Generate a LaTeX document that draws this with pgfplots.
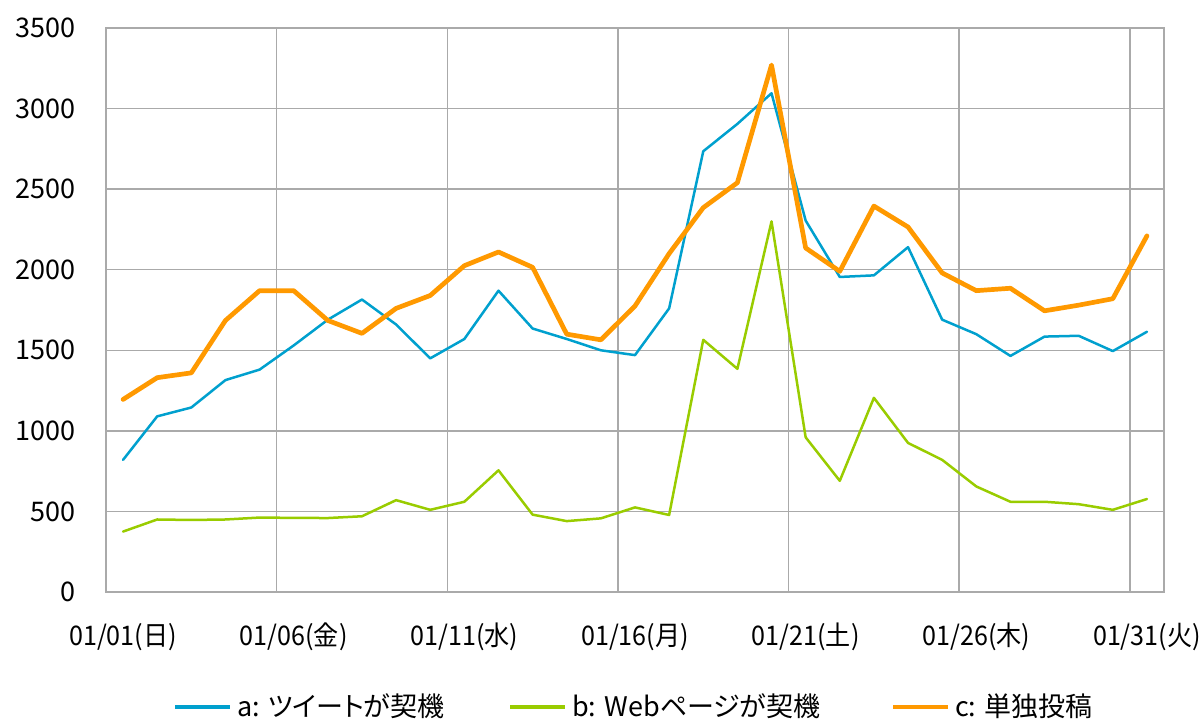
\documentclass[border=0pt]{standalone}
\usepackage{pgfplots}
\pgfplotsset{compat=1.18}
\usepackage{fontspec}
\setmainfont{Noto Sans CJK JP}[CharacterWidth=AlternateProportional]
\newfontfamily\condfont{Noto Sans CJK JP}[CharacterWidth=AlternateProportional,FakeStretch=0.93]
\definecolor{cA}{RGB}{0,160,206}
\definecolor{cB}{RGB}{153,204,0}
\definecolor{cC}{RGB}{255,153,0}
\definecolor{gridc}{RGB}{170,170,170}
\begin{document}
\begin{tikzpicture}
\useasboundingbox (-53pt,-63pt) rectangle (548.5pt,296pt);
\begin{axis}[
 scale only axis, width=529pt, height=282pt,
 xmin=0.5, xmax=31.5, ymin=0, ymax=3500,
 xtick={1,6,11,16,21,26,31},
 xticklabels={01/01(日),01/06(金),01/11(水),01/16(月),01/21(土),01/26(木),01/31(火)},
 minor xtick={5.5,10.5,15.5,20.5,25.5,30.5},
 xminorgrids=true, xmajorgrids=false,
 ytick={0,500,1000,1500,2000,2500,3000,3500},
 yticklabels={0,500,1000,1500,2000,2500,3000,3500},
 ymajorgrids=true,
 grid style={draw=gridc, line width=0.75pt},
 minor grid style={draw=gridc, line width=0.75pt},
 axis line style={draw=gridc, line width=0.75pt},
 major tick length=0pt, minor tick length=0pt,
 tick style={draw=none},
 ticklabel style={font=\fontsize{13.5pt}{16pt}\selectfont},
 xticklabel style={font=\condfont\fontsize{13.5pt}{16pt}\selectfont, anchor=center, yshift=-22.5pt},
 yticklabel style={xshift=-11.5pt},
 legend style={at={(0.498,-0.2035)}, anchor=center, draw=none, fill=none,
   font=\fontsize{13.5pt}{16pt}\selectfont,
   nodes={inner sep=0pt, anchor=west}, column sep=0pt},
 legend columns=3,
 legend image code/.code={\draw[#1, line width=2pt, line cap=butt] (0pt,0pt) -- (27.5pt,0pt);},
]
\addplot[cA, line width=1.25pt, line join=round, line cap=round] coordinates {
(1,820)(2,1090)(3,1145)(4,1315)(5,1380)(6,1530)(7,1690)(8,1815)(9,1660)(10,1450)
(11,1570)(12,1870)(13,1635)(14,1570)(15,1500)(16,1470)(17,1760)(18,2735)(19,2905)(20,3095)
(21,2305)(22,1955)(23,1965)(24,2140)(25,1690)(26,1600)(27,1465)(28,1585)(29,1590)(30,1495)(31,1615)};
\addlegendentry{\makebox[138pt][l]{\hspace{2.5pt}a: ツイートが契機}}
\addplot[cB, line width=1.25pt, line join=round, line cap=round] coordinates {
(1,375)(2,450)(3,447)(4,450)(5,462)(6,460)(7,459)(8,470)(9,570)(10,510)
(11,560)(12,755)(13,480)(14,440)(15,457)(16,525)(17,478)(18,1565)(19,1385)(20,2300)
(21,960)(22,690)(23,1205)(24,925)(25,820)(26,655)(27,560)(28,560)(29,545)(30,510)(31,577)};
\addlegendentry{\makebox[162pt][l]{\hspace{2.5pt}b: Webページが契機}}
\addplot[cC, line width=2.35pt, line join=round, line cap=round] coordinates {
(1,1195)(2,1330)(3,1360)(4,1685)(5,1870)(6,1870)(7,1685)(8,1605)(9,1760)(10,1840)
(11,2025)(12,2110)(13,2015)(14,1600)(15,1565)(16,1775)(17,2100)(18,2385)(19,2540)(20,3270)
(21,2135)(22,1990)(23,2395)(24,2265)(25,1980)(26,1870)(27,1885)(28,1745)(29,1780)(30,1820)(31,2210)};
\addlegendentry{\hspace{2.5pt}c: 単独投稿}
\end{axis}
\end{tikzpicture}
\end{document}
